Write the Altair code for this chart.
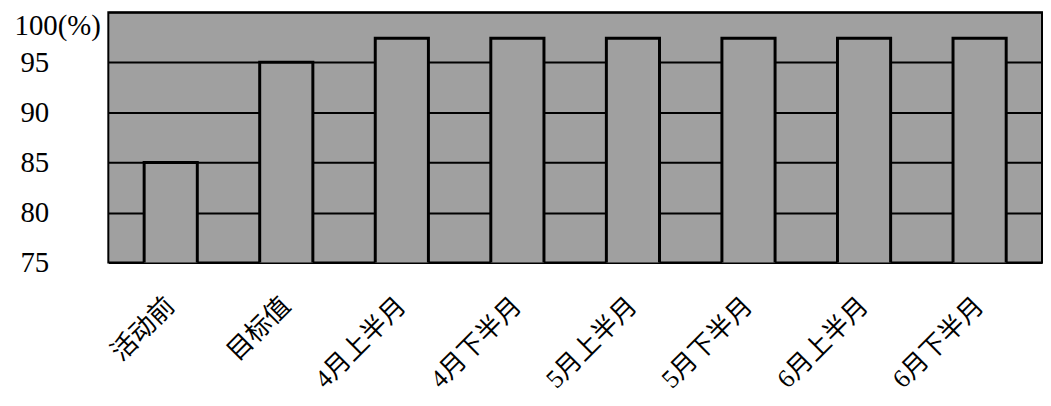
import altair as alt
import pandas as pd

categories = ["活动前", "目标值", "4月上半月", "4月下半月", "5月上半月", "5月下半月", "6月上半月", "6月下半月"]
values = [85, 95, 97.4, 97.4, 97.4, 97.4, 97.4, 97.4]

df = pd.DataFrame({"cat": categories, "val": values})

FONT = "'Liberation Serif', 'Times New Roman', 'Noto Sans CJK SC', serif"
GRAY = "#a0a0a0"

chart = alt.Chart(df).mark_bar(
    fill=GRAY, stroke="black", strokeWidth=3, clip=True
).encode(
    x=alt.X("cat:N", sort=categories, title=None,
            scale=alt.Scale(paddingInner=0.54, paddingOuter=0.31),
            axis=alt.Axis(labelAngle=315, labelAlign="right", labelBaseline="middle",
                          labelPadding=39, labelFontSize=26, labelFont=FONT, labelLimit=400,
                          labelColor="black", ticks=False, domain=False, grid=False)),
    y=alt.Y("val:Q", title=None,
            scale=alt.Scale(domain=[75, 100], nice=False, zero=False),
            axis=alt.Axis(values=[75, 80, 85, 90, 95, 100],
                          labelExpr="datum.value == 100 ? '100(%)' : datum.label",
                          labelAlign="right", labelBaseline="middle",
                          labelPadding={"condition": {"test": "datum.value == 100", "value": 8}, "value": 60},
                          labelOffset={"condition": {"test": "datum.value == 100", "value": 13}, "value": 0},
                          labelFontSize=29, labelFont=FONT, labelColor="black",
                          ticks=False, domain=False,
                          grid=True, gridColor="black", gridWidth=2, gridOpacity=1)),
).properties(
    width=940, height=252,
    autosize=alt.AutoSizeParams(type="none"),
    padding={"left": 101, "right": 1, "top": 3, "bottom": 130},
).configure(
    background="white"
).configure_view(
    fill=GRAY, stroke="black", strokeWidth=2
)

chart.save("out.html", embed_options={"renderer": "svg", "actions": False})
